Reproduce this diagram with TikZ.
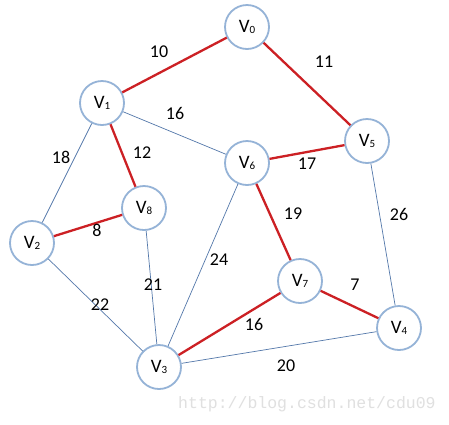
\documentclass[tikz,border=0pt]{standalone}
\usepackage{fontspec}
\setmainfont{Carlito}
\newfontfamily\wmfont{Liberation Mono}
\definecolor{vblue}{RGB}{149,179,215}
\definecolor{mstred}{RGB}{204,32,36}
\definecolor{eblue}{RGB}{84,120,170}
\begin{document}
\begin{tikzpicture}[x=1pt,y=-1pt,
  vtx/.style={circle, draw=vblue, line width=1.8pt, fill=white, minimum size=44pt, inner sep=0pt, font=\fontsize{19}{19}\selectfont},
  mst/.style={draw=mstred, line width=2.3pt},
  nst/.style={draw=eblue, line width=0.7pt},
  lbl/.style={font=\fontsize{18}{18}\selectfont, inner sep=0pt}]
\useasboundingbox (0,0) rectangle (449,424);
\fill[white] (0,0) rectangle (449,424);
\newcommand{\vsub}[1]{V\raisebox{-1pt}{\fontsize{11}{11}\selectfont #1}}
\node[vtx] (v0) at (247,27) {\vsub{0}};
\node[vtx] (v1) at (102,103) {\vsub{1}};
\node[vtx] (v5) at (367,141) {\vsub{5}};
\node[vtx] (v6) at (247,163) {\vsub{6}};
\node[vtx] (v8) at (144,208) {\vsub{8}};
\node[vtx] (v2) at (32,243) {\vsub{2}};
\node[vtx] (v7) at (300,281) {\vsub{7}};
\node[vtx] (v4) at (399,328) {\vsub{4}};
\node[vtx] (v3) at (159,367) {\vsub{3}};
% non-MST edges
\draw[nst] (v1) -- (v6);
\draw[nst] (v1) -- (v2);
\draw[nst] (v5) -- (v4);
\draw[nst] (v6) -- (v3);
\draw[nst] (v8) -- (v3);
\draw[nst] (v2) -- (v3);
\draw[nst] (v3) -- (v4);
% MST edges
\draw[mst] (v1) -- (v0);
\draw[mst] (v0) -- (v5);
\draw[mst] (v1) -- (v8);
\draw[mst] (v6) -- (v5);
\draw[mst] (v6) -- (v7);
\draw[mst] (v2) -- (v8);
\draw[mst] (v7) -- (v4);
\draw[mst] (v3) -- (v7);
% labels
\node[lbl] (l10) at (159,52) {10};
\node[lbl] (l11) at (324,62) {11};
\node[lbl] (l16a) at (175,113) {16};
\node[lbl] (l18) at (61,157) {18};
\node[lbl] (l12) at (142,153) {12};
\node[lbl] (l17) at (307,164) {17};
\node[lbl] (l19) at (293,214) {19};
\node[lbl] (l26) at (399,214) {26};
\node[lbl] (l8) at (97,230) {8};
\node[lbl] (l24) at (219,260) {24};
\node[lbl] (l21) at (153,285) {21};
\node[lbl] (l22) at (100,305) {22};
\node[lbl] (l7) at (355,285) {7};
\node[lbl] (l16b) at (254,324) {16};
\node[lbl] (l20) at (286,366) {20};
\node[anchor=west, inner sep=0pt, text=black!12, font=\wmfont\fontsize{16.5}{16.5}\selectfont] (wm) at (178,404) {http://blog.csdn.net/cdu09};
\end{tikzpicture}
\end{document}
